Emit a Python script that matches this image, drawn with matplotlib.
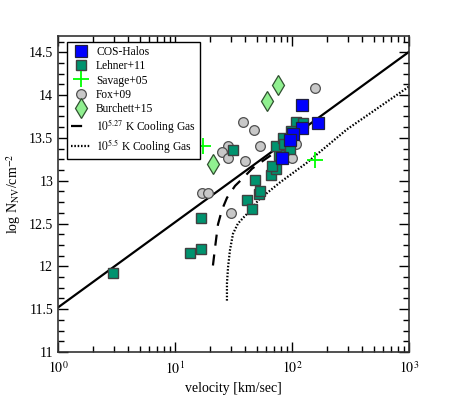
import numpy as np
import matplotlib
matplotlib.use("Agg")
import matplotlib.pyplot as plt
from matplotlib.ticker import LogLocator, MultipleLocator, NullFormatter

plt.rcParams['font.family'] = ['Liberation Serif', 'DejaVu Serif']
plt.rcParams['mathtext.fontset'] = 'stix'

# ---- data (velocity km/s, log N) ----
cos_v = [122, 167, 122, 102, 96, 82]
cos_n = [13.88, 13.67, 13.62, 13.55, 13.47, 13.27]

lehner_v = [2.95, 13.4, 16.7, 16.7, 31.3, 41.2, 45.5, 48.3, 52.2, 53.4, 66.2, 73, 67.6,
            77.4, 73, 83.8, 85.5, 96.2, 108, 124, 98.5]
lehner_n = [11.92, 12.16, 12.20, 12.57, 13.36, 12.78, 12.67, 13.01, 12.85, 12.88, 13.07, 13.14, 13.17,
            13.30, 13.41, 13.50, 13.43, 13.37, 13.69, 13.67, 13.58]

savage_v = [17.3, 157]
savage_n = [13.41, 13.24]

fox_v = [38.1, 47.3, 28.4, 25.2, 28.4, 39.7, 53.3, 17.0, 19.1, 30.1, 108, 100, 157]
fox_n = [13.69, 13.59, 13.41, 13.33, 13.26, 13.23, 13.40, 12.86, 12.86, 12.62, 13.43, 13.26, 14.08]

burchett_v = [75.9, 61.1, 21.1]
burchett_n = [14.12, 13.93, 13.19]

fit_v = [1, 1000]
fit_n = [11.52, 14.505]

cool527_v = [21.1, 22.0, 23.3, 25.2, 27.8, 32.6, 38.1, 45.5, 53.4, 64.9, 74.5]
cool527_n = [12.01, 12.22, 12.49, 12.66, 12.80, 12.94, 13.03, 13.14, 13.21, 13.29, 13.36]

cool55_v = [27.8, 27.8, 28.4, 29.5, 31.3, 34.5, 39.7, 45.5, 51.2, 78.9, 134, 295, 1000]
cool55_n = [11.60, 11.80, 11.99, 12.19, 12.38, 12.50, 12.59, 12.67, 12.77, 12.98, 13.21, 13.60, 14.10]

xticks = [1, 10, 100, 1000]
xticklabels = [r'$10^0$', r'$10^1$', r'$10^2$', r'$10^3$']
yticks = [11, 11.5, 12, 12.5, 13, 13.5, 14, 14.5]
yticklabels = ['11', '11.5', '12', '12.5', '13', '13.5', '14', '14.5']

fig = plt.figure(figsize=(4.63, 3.95), dpi=100)
ax = fig.add_axes([58/463, 1-352/395, (409-58)/463, (352-36)/395])

ax.plot(fit_v, fit_n, color='black', lw=1.6, zorder=2)
l1, = ax.plot(cool527_v, cool527_n, color='black', lw=1.6, ls=(0, (5, 4)), zorder=2,
              label=r'$10^{5.27}$ K Cooling Gas')
l2, = ax.plot(cool55_v, cool55_n, color='black', lw=1.6, ls=(0, (0.7, 0.8)), zorder=2,
              label=r'$10^{5.5}$ K Cooling Gas')

h_fox = ax.plot(fox_v, fox_n, 'o', ms=7, mfc='#c8c8c8', mec='#505050', mew=0.9, ls='none',
                label='Fox+09', zorder=3)[0]
h_leh = ax.plot(lehner_v, lehner_n, 's', ms=7.5, mfc='#00936f', mec='#404040', mew=1.0, ls='none',
                label='Lehner+11', zorder=4)[0]
h_cos = ax.plot(cos_v, cos_n, 's', ms=9, mfc='#0000ff', mec='#202040', mew=0.9, ls='none',
                label='COS-Halos', zorder=5)[0]
h_sav = ax.plot(savage_v, savage_n, '+', ms=11, mec='#00ff00', mew=1.3, ls='none',
                label='Savage+05', zorder=5)[0]
h_bur = ax.plot(burchett_v, burchett_n, 'd', ms=10, mfc='#90f090', mec='#305030', mew=0.9, ls='none',
                label='Burchett+15', zorder=5)[0]

ax.set_xscale('log')
ax.set_xlim(1, 1000)
ax.set_ylim(11, 14.69)
ax.set_xticks(xticks)
ax.set_xticklabels(xticklabels)
ax.xaxis.set_minor_locator(LogLocator(base=10, subs=np.arange(2, 10)))
ax.xaxis.set_minor_formatter(NullFormatter())
ax.set_yticks(yticks)
ax.set_yticklabels(yticklabels)
ax.yaxis.set_minor_locator(MultipleLocator(0.125))
ax.tick_params(which='both', direction='in', top=True, right=True, labelsize=10)
ax.tick_params(which='major', length=7, width=1)
ax.tick_params(which='minor', length=4, width=1)
ax.tick_params(axis='x', pad=6)
for s in ax.spines.values():
    s.set_linewidth(1.2)
    s.set_color('#333333')

ax.set_xlabel('velocity [km/sec]', fontsize=10, labelpad=4)
ax.set_ylabel(r'log N$_{\rm NV}$/cm$^{-2}$', fontsize=10, labelpad=4)

leg = ax.legend(handles=[h_cos, h_leh, h_sav, h_fox, h_bur, l1, l2], loc='upper left',
                bbox_to_anchor=(0.025, 0.98), fontsize=8.3, frameon=True, fancybox=False,
                borderpad=0.35, handlelength=1.7, handletextpad=0.5, labelspacing=0.18,
                borderaxespad=0.0, framealpha=1)
leg.get_frame().set_edgecolor('black')
leg.get_frame().set_linewidth(1.0)
leg.set_zorder(10)

fig.savefig('out.png', dpi=100)
